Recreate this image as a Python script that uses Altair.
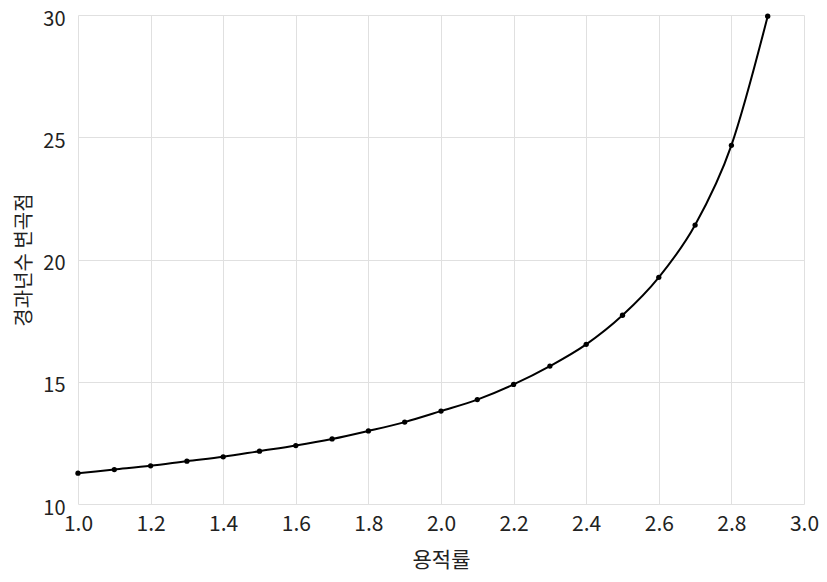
import altair as alt
import pandas as pd

far = [1.0, 1.1, 1.2, 1.3, 1.4, 1.5, 1.6, 1.7, 1.8, 1.9, 2.0,
       2.1, 2.2, 2.3, 2.4, 2.5, 2.6, 2.7, 2.8, 2.9]
years = [11.26, 11.41, 11.56, 11.75, 11.93, 12.16, 12.39, 12.66, 12.99, 13.35, 13.80,
         14.27, 14.89, 15.64, 16.53, 17.72, 19.27, 21.41, 24.67, 29.95]

df = pd.DataFrame({"x": far, "y": years})
FONT = "Noto Sans CJK KR"

x = alt.X("x:Q", title="용적률",
          scale=alt.Scale(domain=[1.0, 3.0], nice=False, zero=False),
          axis=alt.Axis(values=[1.0, 1.2, 1.4, 1.6, 1.8, 2.0, 2.2, 2.4, 2.6, 2.8, 3.0],
                        format=".1f", labelFontSize=21, titleFontSize=21,
                        labelColor="#222", titleColor="#222", titleFontWeight="normal",
                        labelFont=FONT, titleFont=FONT, ticks=False, domain=False,
                        labelFlush=False,
                        gridColor="#e0e0e0", labelPadding=9, titlePadding=15))
y = alt.Y("y:Q", title="경과년수 변곡점",
          scale=alt.Scale(domain=[10, 30], nice=False, zero=False),
          axis=alt.Axis(values=[10, 15, 20, 25, 30], labelFontSize=20, titleFontSize=20,
                        labelColor="#222", titleColor="#222", titleFontWeight="normal",
                        labelFont=FONT, titleFont=FONT, ticks=False, domain=False,
                        labelFlush=False, labelOffset=4,
                        gridColor="#e0e0e0", labelPadding=13, titlePadding=8))

line = alt.Chart(df).mark_line(color="black", strokeWidth=2, interpolate="monotone").encode(x=x, y=y)
pts = alt.Chart(df).mark_circle(color="black", size=28, opacity=1).encode(x=x, y=y)

chart = (line + pts).properties(
    width=726, height=489,
    autosize=alt.AutoSizeParams(type="none"),
    padding={"left": 70, "top": 7, "right": 15, "bottom": 70},
).configure_view(stroke=None)

chart.save("out.html", embed_options={"renderer": "svg", "actions": False})
